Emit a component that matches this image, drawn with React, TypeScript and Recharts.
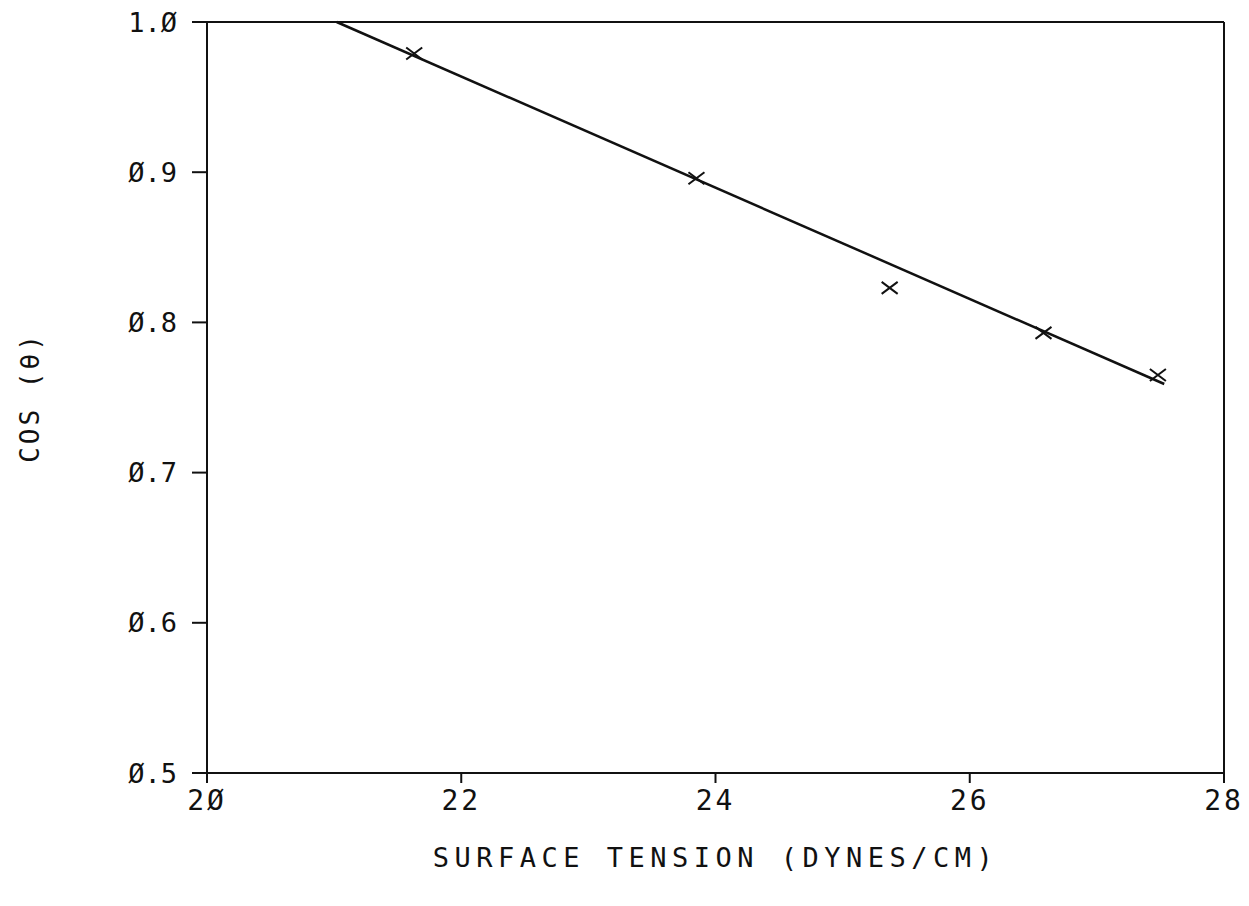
import { ComposedChart, Line, Scatter, XAxis, YAxis, ReferenceLine } from 'recharts'

// measured points
const tension = [21.63, 23.85, 25.37, 26.58, 27.48]
const cosTheta = [0.979, 0.896, 0.823, 0.793, 0.765]

// fitted line end points
const fitX = [21.02, 27.53]
const fitY = [1.0, 0.759]

const xTicks = [20, 22, 24, 26, 28]
const yTicks = [0.5, 0.6, 0.7, 0.8, 0.9, 1.0]

const points = tension.map((x, i) => ({ x, y: cosTheta[i] }))
const fit = fitX.map((x, i) => ({ x, y: fitY[i] }))

const font = '"DejaVu Sans Mono", monospace'
const ink = '#111'

// plotter style zero with a slash
const slashZero = (s: string) => s.replace(/0/g, 'Ø')

const Cross = ({ cx, cy }: { cx?: number; cy?: number }) => {
  if (cx == null || cy == null) return null
  return (
    <path
      d={`M${cx - 8},${cy - 6}L${cx + 8},${cy + 6}M${cx - 8},${cy + 6}L${cx + 8},${cy - 6}`}
      stroke={ink}
      strokeWidth={2}
      fill="none"
    />
  )
}

export default function App() {
  return (
    <div style={{ position: 'absolute', left: 0, top: 0, background: '#fff' }}>
      <ComposedChart width={1249} height={906} margin={{ top: 22, right: 25, left: 0, bottom: 0 }}>
        <XAxis
          type="number"
          dataKey="x"
          domain={[20, 28]}
          ticks={xTicks}
          tickFormatter={(v) => slashZero(String(v))}
          height={133}
          tickSize={10}
          tickMargin={7}
          stroke={ink}
          strokeWidth={2}
          tick={{ fontSize: 28, fill: ink, fontFamily: font, style: { letterSpacing: 3 } }}
          label={{
            value: 'SURFACE TENSION (DYNES/CM)',
            position: 'insideBottom',
            offset: 39,
            fill: ink,
            fontSize: 27,
            fontFamily: font,
            style: { letterSpacing: 5.5 },
          }}
        />
        <YAxis
          type="number"
          dataKey="y"
          domain={[0.5, 1.0]}
          ticks={yTicks}
          tickFormatter={(v) => slashZero(Number(v).toFixed(1))}
          width={207}
          tickSize={15}
          tickMargin={15}
          stroke={ink}
          strokeWidth={2}
          tick={{ fontSize: 27, fill: ink, fontFamily: font }}
          label={{
            value: 'COS (θ)',
            angle: -90,
            position: 'center',
            dx: -74,
            fill: ink,
            fontSize: 26,
            fontFamily: font,
            style: { letterSpacing: 3 },
          }}
        />
        <ReferenceLine y={1.0} stroke={ink} strokeWidth={2} />
        <ReferenceLine x={28} stroke={ink} strokeWidth={2} />
        <Line
          data={fit}
          dataKey="y"
          type="linear"
          stroke={ink}
          strokeWidth={2.5}
          dot={false}
          activeDot={false}
          isAnimationActive={false}
        />
        <Scatter data={points} dataKey="y" shape={<Cross />} isAnimationActive={false} />
      </ComposedChart>
    </div>
  )
}
